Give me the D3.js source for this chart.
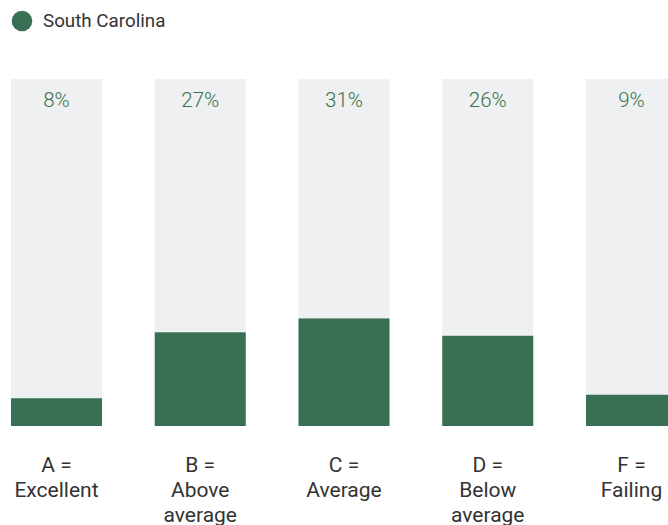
<!DOCTYPE html>
<html><head><meta charset="utf-8">
<script src="https://cdn.jsdelivr.net/npm/d3@7"></script>
<style>body{margin:0;background:#fff;font-family:Roboto,"Noto Sans",sans-serif;}</style>
</head><body><div id="chart"></div>
<script>
const categories = ["A|Excellent","B|Above average","C|Average","D|Below average","F|Failing"];
const catLines = [["A =","Excellent"],["B =","Above","average"],["C =","Average"],["D =","Below","average"],["F =","Failing"]];
const values = [8,27,31,26,9];
const seriesName = "South Carolina";

const W=668,H=525;
const green="#386f55", grey="#eff0f2";
const svg=d3.select("#chart").append("svg").attr("width",W).attr("height",H);

const x=d3.scaleBand().domain(categories).range([11,11+143.75*4+91]).paddingInner(0.367).paddingOuter(0);
const y=d3.scaleLinear().domain([0,100]).range([426,79]);

svg.append("circle").attr("cx",22).attr("cy",21).attr("r",10.3).attr("fill",green);
svg.append("text").attr("x",43).attr("y",27).attr("font-size",18.8).attr("fill","#333").text(seriesName);

const g=svg.append("g");
g.selectAll("rect.bg").data(categories).join("rect").attr("class","bg")
 .attr("x",d=>x(d)).attr("width",x.bandwidth()).attr("y",y(100)).attr("height",y(0)-y(100)).attr("fill",grey);
g.selectAll("rect.v").data(values).join("rect").attr("class","v")
 .attr("x",(d,i)=>x(categories[i])).attr("width",x.bandwidth()).attr("y",d=>y(d)).attr("height",d=>y(0)-y(d)).attr("fill",green);
g.selectAll("text.pct").data(values).join("text").attr("class","pct")
 .attr("x",(d,i)=>x(categories[i])+x.bandwidth()/2).attr("y",107).attr("text-anchor","middle")
 .attr("font-size",20.5).attr("font-weight",300).attr("fill","#37734f").text(d=>d+"%");
const lab=g.selectAll("text.cat").data(categories).join("text").attr("class","cat")
 .attr("text-anchor","middle").attr("font-size",21).attr("font-weight",400).attr("fill","#333");
lab.each(function(d,i){
  const t=d3.select(this); const cx=x(d)+x.bandwidth()/2;
  catLines[i].forEach((l,j)=>t.append("tspan").attr("x",cx).attr("y",472+25*j).text(l));
});
</script></body></html>
